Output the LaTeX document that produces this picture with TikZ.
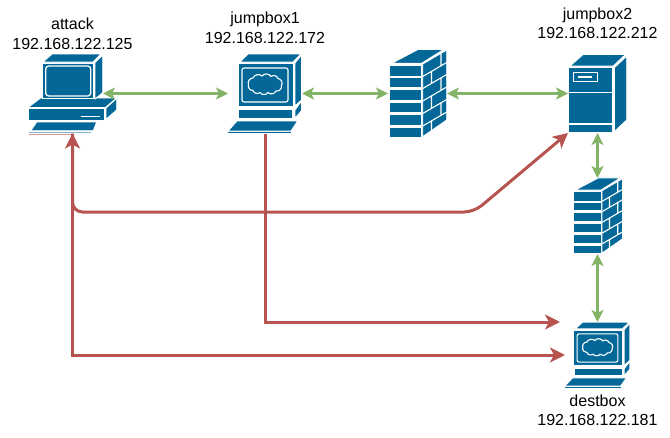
\documentclass[tikz,border=0pt]{standalone}
\usepackage{fontspec}
\setmainfont{Liberation Sans}
\usetikzlibrary{positioning,arrows.meta}
\definecolor{iconblue}{HTML}{036897}
\definecolor{linkgreen}{HTML}{82B366}
\definecolor{linkred}{HTML}{B85450}

\tikzset{
  icon part/.style={fill=iconblue, draw=white, line width=0.9pt},
  icon line/.style={draw=white, line width=1.1pt},
  pics/desktop/.style={code={
    \path[icon part] (-44.5,14) -- (-32,4.5) -- (44,4.5) -- (33,14) -- cycle;
    \path[icon part] (-29.5,-31.5) -- (-20.5,-39.5) -- (28.5,-39.5) -- (20.5,-31.5) -- cycle;
    \path[icon part] (-30.5,-30.5) rectangle (20.5,5.2);
    \path[icon part] (22.5,-31) -- (30.2,-38.5) -- (30.2,-0.8) -- (22.5,5.5) -- cycle;
    \path[icon line, line width=1.3pt, rounded corners=3pt] (-26.8,-27.5) rectangle (18.2,2.5);
    \path[icon part] (-44.5,15.2) rectangle (31.8,27.2);
    \path[icon part] (33.5,14.5) -- (44.2,4.8) -- (44.2,16.5) -- (33.5,25.8) -- cycle;
    \fill[white] (8.5,22) rectangle (27.5,23.2);
    \path[icon part] (-41.8,37.2) -- (-35.8,28.5) -- (24.2,28.5) -- (20.8,37.2) -- cycle;
    \fill[iconblue!50] (-43.2,38.4) rectangle (18.2,39.6);
    \fill[linkred!60] (-43.2,40.2) rectangle (-0.5,40.9);
  }},
  pics/terminal/.style={code={
    \path[icon part] (-25,-31.5) -- (-17,-39.5) -- (36,-39.5) -- (28,-31.5) -- cycle;
    \path[icon part] (-27,-30) rectangle (28,12.5);
    \path[icon part] (30,-30.5) -- (36.5,-38.5) -- (36.5,6.5) -- (30,12.5) -- cycle;
    \path[icon line, rounded corners=2pt] (-23,-25.5) rectangle (23,8.5);
    \path[icon line] (-16.5,-9) to[bend left=60] (-12,-15.5) to[bend left=60] (-3,-17.5)
      to[bend left=60] (6,-17) to[bend left=60] (13,-15) to[bend left=60] (16.5,-8)
      to[bend left=60] (11,-2.5) to[bend left=60] (3,-1) to[bend left=60] (-5,-1)
      to[bend left=60] (-12,-3) to[bend left=60] cycle;
    \path[icon part] (-26.3,15.8) rectangle (27.7,25.2);
    \path[icon part] (30,16.5) -- (36.5,7.5) -- (36.5,17.2) -- (30,24.8) -- cycle;
    \path[icon part] (-37,37.5) -- (-28,27.5) -- (32.7,27.5) -- (26,37.5) -- cycle;
    \fill[iconblue] (-37,38.3) rectangle (26,39.6);
  }},
  pics/brickwall/.style={code={
    \path[icon part] (-25.8,-30.2) -- (0.8,-44.2) -- (26.5,-44.2) -- (4.2,-30.2) -- cycle;
    \path[icon part] (-28.5,-28.5) rectangle (4.2,-17.5);
    \path[icon part] (-28.5,-15.8) rectangle (4.2,-6.2);
    \path[icon part] (-28.5,-4.2) rectangle (4.2,6.5);
    \path[icon part] (-28.5,8.5) rectangle (4.2,19.2);
    \path[icon part] (-28.5,21.2) rectangle (4.2,31.8);
    \path[icon part] (-28.5,33.8) rectangle (4.2,43.8);
    \path[icon part] (5.2,-29.5) -- (29.2,-43.5) -- (29.2,26.5) -- (5.2,43.2) -- cycle;
    \path[icon line] (5.2,-17) -- (29.2,-31)
      (5.2,-5) -- (29.2,-19)
      (5.2,7.5) -- (29.2,-6.5)
      (5.2,20) -- (29.2,6)
      (5.2,32.5) -- (29.2,18.5)
      (23.5,-40.2) -- (23.5,-27.7)
      (14,-22.1) -- (14,-10.1)
      (23.5,-15.7) -- (23.5,-3.2)
      (14,2.4) -- (14,14.9)
      (23.5,9.3) -- (23.5,21.8)
      (14,27.4) -- (14,37);
  }},
  pics/tower/.style={code={
    \path[icon part] (-27.5,-27.5) -- (-14.2,-39.2) -- (28.2,-39.2) -- (15.8,-27.5) -- cycle;
    \path[icon part] (-29.2,-25.8) rectangle (14.8,38.8);
    \path[icon part] (16.8,-25.8) -- (29.2,-37.5) -- (29.2,26.5) -- (16.8,38.2) -- cycle;
    \path[icon line] (-29.2,-0.8) -- (14.8,-0.8) (-29.2,30.5) -- (14.8,30.5);
    \path[icon line] (-24.2,-20.8) rectangle (-0.2,-11.8);
    \fill[white] (-19.2,-17.5) rectangle (-5.8,-15.2);
  }}
}

\begin{document}
\begin{tikzpicture}[x=1pt, y=-1pt,
    host node/.style={inner sep=0pt, outer sep=0pt},
    label node/.style={inner sep=0pt, align=center, font=\fontsize{16}{19.5}\selectfont},
    green link/.style={<->, >={Stealth[length=12pt,width=12pt,inset=3pt]}, draw=linkgreen, line width=2.2pt},
    red link/.style={->, >={Stealth[length=15pt,width=15pt,inset=4pt]}, draw=linkred, line width=3pt}]
  \useasboundingbox (0,0) rectangle (670,437);

  \node[host node, minimum width=61pt, minimum height=80pt] (attack) at (72.5,93.5) {};
  \node[host node, minimum width=74pt, minimum height=80pt] (jumpbox1) [right=125pt of attack] {};
  \node[host node, minimum width=59pt, minimum height=87pt] (firewall1) [right=86pt of jumpbox1] {};
  \node[host node, minimum width=59pt, minimum height=79pt] (jumpbox2) [right=121pt of firewall1] {};
  \node[host node, minimum width=50pt, minimum height=76pt] (firewall2) [below=45pt of jumpbox2] {};
  \node[host node, minimum width=65pt, minimum height=66pt] (destbox) [below=68pt of firewall2] {};

  \pic at (attack.center) {desktop};
  \pic at (jumpbox1.center) {terminal};
  \pic at (firewall1.center) {brickwall};
  \pic at (jumpbox2.center) {tower};
  \pic[xscale=0.86, yscale=0.86] at (firewall2.center) {brickwall};
  \pic[xscale=0.888, yscale=0.83] at (destbox.center) {terminal};

  \node[label node] (attacklabel) [above=4pt of attack] {attack\\192.168.122.125};
  \node[label node] (jumpbox1label) [above=10pt of jumpbox1] {jumpbox1\\192.168.122.172};
  \node[label node] (jumpbox2label) [above=15pt of jumpbox2] {jumpbox2\\192.168.122.212};
  \node[label node] (destboxlabel) [below=6.5pt of destbox] {destbox\\192.168.122.181};

  \coordinate (bend) at (474,212);

  \draw[green link] (attack.east) -- (jumpbox1.west);
  \draw[green link] (jumpbox1.east) -- (firewall1.west);
  \draw[green link] (firewall1.east) -- (jumpbox2.west);
  \draw[green link] (jumpbox2.south) -- (firewall2.north);
  \draw[green link] (firewall2.south) -- (destbox.north);

  \draw[red link, <->] (attack.south) |- (destbox.west);
  \draw[red link, rounded corners=10pt] (attack.south) |- (bend) -- (jumpbox2.south west);
  \draw[red link, shorten >=5pt] (jumpbox1.south) |- (destbox.north west);
\end{tikzpicture}
\end{document}
